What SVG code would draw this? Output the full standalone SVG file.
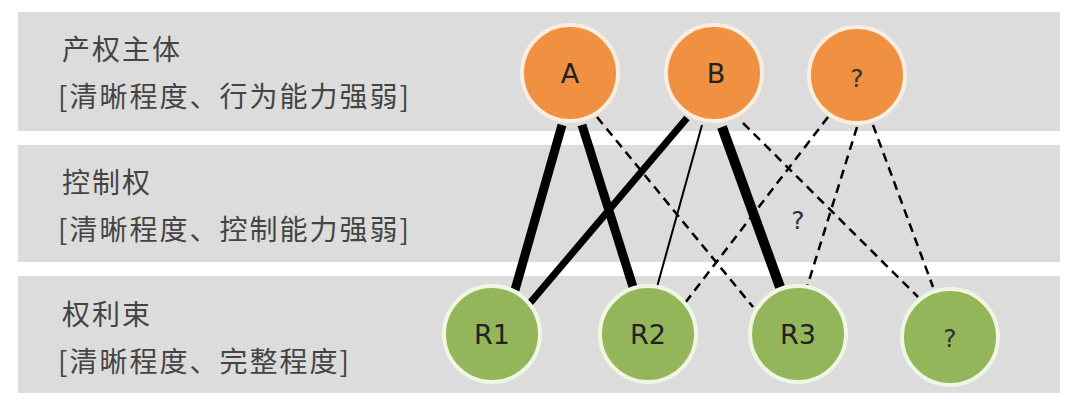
<svg xmlns="http://www.w3.org/2000/svg" width="1080" height="409" viewBox="0 0 1080 409">
<style>
.band{fill:#dcdcdc}
.lbl{font-family:"Noto Sans CJK SC",sans-serif;font-size:28px;letter-spacing:2px;fill:#444}
.top{fill:#ef9140;stroke:#fbeee0;stroke-width:4}
.bot{fill:#93b65a;stroke:#f0f6e4;stroke-width:4}
.t{font-family:"DejaVu Sans",sans-serif;font-size:27px;fill:#222;text-anchor:middle}
.q{font-family:"DejaVu Sans",sans-serif;font-size:25px;fill:#333;text-anchor:middle}
line{stroke:#000}
.d{stroke-width:2.5;stroke-dasharray:9 6}
</style>
<rect width="1080" height="409" fill="#fff"/>
<rect class="band" x="18" y="12" width="1042" height="119"/>
<rect class="band" x="18" y="145" width="1042" height="117"/>
<rect class="band" x="18" y="276" width="1042" height="117"/>
<text class="lbl" x="62" y="60">产权主体</text>
<text class="lbl" x="58" y="107">[清晰程度、行为能力强弱]</text>
<text class="lbl" x="62" y="193">控制权</text>
<text class="lbl" x="58" y="240">[清晰程度、控制能力强弱]</text>
<text class="lbl" x="62" y="325">权利束</text>
<text class="lbl" x="58" y="372">[清晰程度、完整程度]</text>
<g id="connectors">
<line x1="562" y1="125" x2="515" y2="290" stroke-width="9"/>
<line x1="582" y1="125" x2="633" y2="287" stroke-width="9"/>
<line class="d" x1="597" y1="117" x2="753" y2="307"/>
<line x1="687" y1="118" x2="530" y2="303" stroke-width="7"/>
<line x1="702" y1="125" x2="657" y2="287" stroke-width="2"/>
<line x1="722" y1="127" x2="780" y2="287" stroke-width="10"/>
<line class="d" x1="743" y1="123" x2="918" y2="297"/>
<line class="d" x1="828" y1="117" x2="685" y2="303"/>
<line class="d" x1="857" y1="127" x2="807" y2="287"/>
<line class="d" x1="873" y1="125" x2="933" y2="287"/>
<text class="q" x="798" y="229">?</text>
</g>
<g id="A"><circle class="top" cx="570" cy="73" r="48"/><text class="t" x="570" y="83">A</text></g>
<g id="B"><circle class="top" cx="714" cy="73" r="48"/><text class="t" x="716" y="83">B</text></g>
<g id="Q1"><circle class="top" cx="857" cy="75" r="48"/><text class="q" x="857" y="87">?</text></g>
<g id="R1"><circle class="bot" cx="492" cy="334" r="48"/><text class="t" x="492" y="344">R1</text></g>
<g id="R2"><circle class="bot" cx="648" cy="334" r="48"/><text class="t" x="648" y="344">R2</text></g>
<g id="R3"><circle class="bot" cx="798" cy="334" r="48"/><text class="t" x="798" y="344">R3</text></g>
<g id="Q2"><circle class="bot" cx="950" cy="337" r="48"/><text class="q" x="950" y="347">?</text></g>
</svg>
